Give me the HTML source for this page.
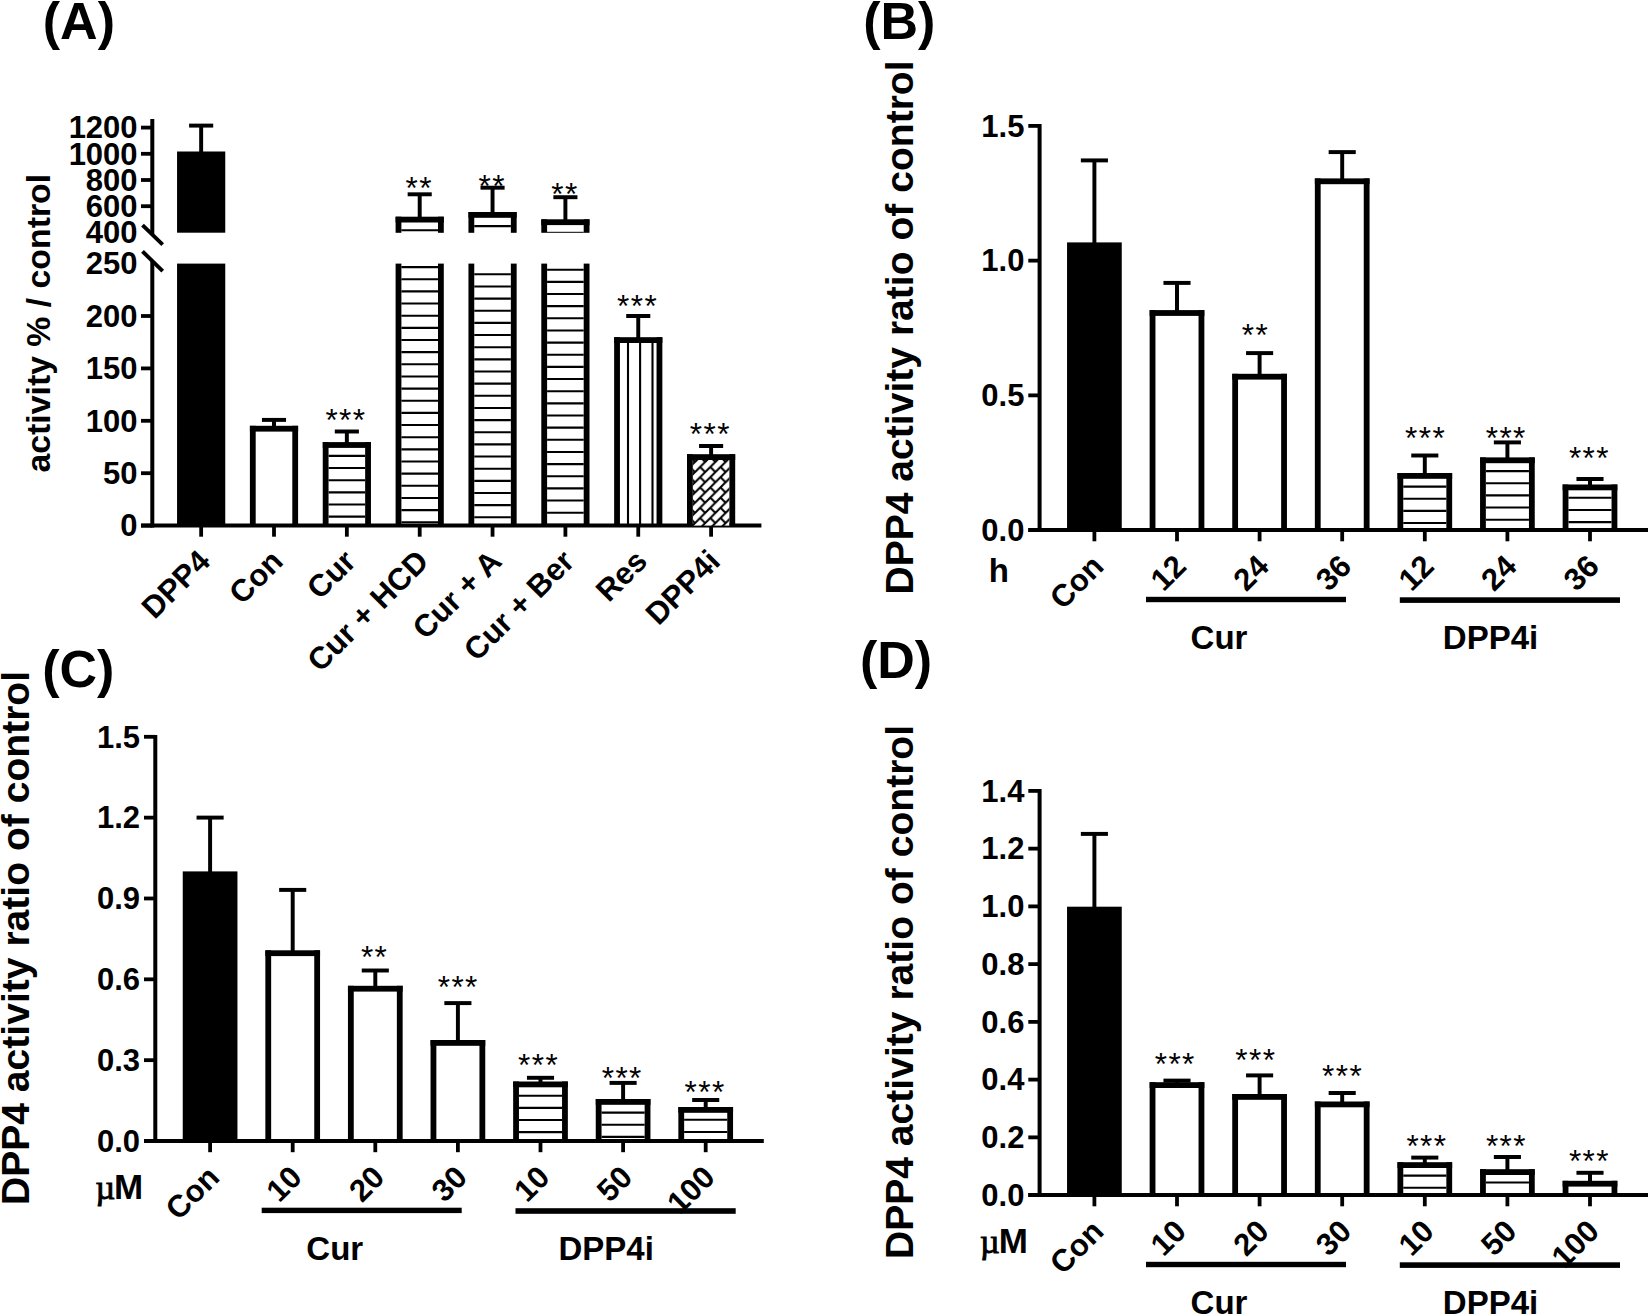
<!DOCTYPE html><html><head><meta charset="utf-8"><title>DPP4 activity figure</title><style>html,body{margin:0;padding:0;background:#fff;overflow:hidden}svg{display:block}</style></head><body><svg width="1649" height="1315" viewBox="0 0 1649 1315" font-family="'Liberation Sans', Arial, Helvetica, sans-serif" fill="#000"><defs><pattern id="brick" patternUnits="userSpaceOnUse" x="695.0" y="461.9" width="10.2" height="10.2">
<rect width="10.2" height="10.2" fill="#fff"/>
<path d="M-1,11.2 L11.2,-1 M-1,1 L1,-1 M9.2,11.2 L11.2,9.2 M5.1,5.1 L10.2,10.2" stroke="#000" stroke-width="2.1" fill="none"/>
</pattern></defs><line x1="152.30" y1="527.60" x2="152.30" y2="261.50" stroke="#000" stroke-width="4.0" stroke-linecap="butt"/>
<line x1="152.30" y1="234.50" x2="152.30" y2="119.00" stroke="#000" stroke-width="4.0" stroke-linecap="butt"/>
<line x1="142.50" y1="225.10" x2="162.70" y2="244.60" stroke="#000" stroke-width="3.9" stroke-linecap="butt"/>
<line x1="142.50" y1="251.40" x2="162.70" y2="271.20" stroke="#000" stroke-width="3.9" stroke-linecap="butt"/>
<line x1="141.00" y1="525.60" x2="152.30" y2="525.60" stroke="#000" stroke-width="3.8" stroke-linecap="butt"/>
<text x="137.60" y="536.30" font-size="31" font-weight="bold" text-anchor="end">0</text>
<line x1="141.00" y1="473.20" x2="152.30" y2="473.20" stroke="#000" stroke-width="3.8" stroke-linecap="butt"/>
<text x="137.60" y="483.90" font-size="31" font-weight="bold" text-anchor="end">50</text>
<line x1="141.00" y1="420.80" x2="152.30" y2="420.80" stroke="#000" stroke-width="3.8" stroke-linecap="butt"/>
<text x="137.60" y="431.50" font-size="31" font-weight="bold" text-anchor="end">100</text>
<line x1="141.00" y1="368.40" x2="152.30" y2="368.40" stroke="#000" stroke-width="3.8" stroke-linecap="butt"/>
<text x="137.60" y="379.10" font-size="31" font-weight="bold" text-anchor="end">150</text>
<line x1="141.00" y1="316.00" x2="152.30" y2="316.00" stroke="#000" stroke-width="3.8" stroke-linecap="butt"/>
<text x="137.60" y="326.70" font-size="31" font-weight="bold" text-anchor="end">200</text>
<text x="137.60" y="274.30" font-size="31" font-weight="bold" text-anchor="end">250</text>
<line x1="141.00" y1="206.20" x2="152.30" y2="206.20" stroke="#000" stroke-width="3.8" stroke-linecap="butt"/>
<text x="137.60" y="216.90" font-size="31" font-weight="bold" text-anchor="end">600</text>
<line x1="141.00" y1="180.00" x2="152.30" y2="180.00" stroke="#000" stroke-width="3.8" stroke-linecap="butt"/>
<text x="137.60" y="190.70" font-size="31" font-weight="bold" text-anchor="end">800</text>
<line x1="141.00" y1="153.80" x2="152.30" y2="153.80" stroke="#000" stroke-width="3.8" stroke-linecap="butt"/>
<text x="137.60" y="164.50" font-size="31" font-weight="bold" text-anchor="end">1000</text>
<line x1="141.00" y1="127.60" x2="152.30" y2="127.60" stroke="#000" stroke-width="3.8" stroke-linecap="butt"/>
<text x="137.60" y="138.30" font-size="31" font-weight="bold" text-anchor="end">1200</text>
<text x="137.60" y="243.10" font-size="31" font-weight="bold" text-anchor="end">400</text>
<line x1="141.00" y1="525.60" x2="761.40" y2="525.60" stroke="#000" stroke-width="4.0" stroke-linecap="butt"/>
<line x1="201.15" y1="525.60" x2="201.15" y2="536.70" stroke="#000" stroke-width="3.8" stroke-linecap="butt"/>
<line x1="274.00" y1="525.60" x2="274.00" y2="536.70" stroke="#000" stroke-width="3.8" stroke-linecap="butt"/>
<line x1="346.85" y1="525.60" x2="346.85" y2="536.70" stroke="#000" stroke-width="3.8" stroke-linecap="butt"/>
<line x1="419.70" y1="525.60" x2="419.70" y2="536.70" stroke="#000" stroke-width="3.8" stroke-linecap="butt"/>
<line x1="492.55" y1="525.60" x2="492.55" y2="536.70" stroke="#000" stroke-width="3.8" stroke-linecap="butt"/>
<line x1="565.40" y1="525.60" x2="565.40" y2="536.70" stroke="#000" stroke-width="3.8" stroke-linecap="butt"/>
<line x1="638.25" y1="525.60" x2="638.25" y2="536.70" stroke="#000" stroke-width="3.8" stroke-linecap="butt"/>
<line x1="711.10" y1="525.60" x2="711.10" y2="536.70" stroke="#000" stroke-width="3.8" stroke-linecap="butt"/>
<rect x="177.05" y="263.60" width="48.20" height="262.00" fill="#000"/>
<rect x="177.05" y="151.5" width="48.20" height="81.20" fill="#000"/>
<line x1="201.15" y1="154.00" x2="201.15" y2="125.60" stroke="#000" stroke-width="3.95" stroke-linecap="butt"/>
<line x1="189.10" y1="125.60" x2="213.20" y2="125.60" stroke="#000" stroke-width="3.95" stroke-linecap="butt"/>
<rect x="249.90" y="425.80" width="48.20" height="5.80" fill="#000"/>
<rect x="249.90" y="425.80" width="5.80" height="99.80" fill="#000"/>
<rect x="292.30" y="425.80" width="5.80" height="99.80" fill="#000"/>
<line x1="274.00" y1="427.80" x2="274.00" y2="419.90" stroke="#000" stroke-width="3.95" stroke-linecap="butt"/>
<line x1="261.95" y1="419.90" x2="286.05" y2="419.90" stroke="#000" stroke-width="3.95" stroke-linecap="butt"/>
<line x1="328.55" y1="455.90" x2="365.15" y2="455.90" stroke="#000" stroke-width="2.1" stroke-linecap="butt"/>
<line x1="328.55" y1="468.05" x2="365.15" y2="468.05" stroke="#000" stroke-width="2.1" stroke-linecap="butt"/>
<line x1="328.55" y1="480.20" x2="365.15" y2="480.20" stroke="#000" stroke-width="2.1" stroke-linecap="butt"/>
<line x1="328.55" y1="492.35" x2="365.15" y2="492.35" stroke="#000" stroke-width="2.1" stroke-linecap="butt"/>
<line x1="328.55" y1="504.50" x2="365.15" y2="504.50" stroke="#000" stroke-width="2.1" stroke-linecap="butt"/>
<line x1="328.55" y1="516.65" x2="365.15" y2="516.65" stroke="#000" stroke-width="2.1" stroke-linecap="butt"/>
<rect x="322.75" y="442.10" width="48.20" height="5.80" fill="#000"/>
<rect x="322.75" y="442.10" width="5.80" height="83.50" fill="#000"/>
<rect x="365.15" y="442.10" width="5.80" height="83.50" fill="#000"/>
<line x1="346.85" y1="444.10" x2="346.85" y2="431.50" stroke="#000" stroke-width="3.95" stroke-linecap="butt"/>
<line x1="334.80" y1="431.50" x2="358.90" y2="431.50" stroke="#000" stroke-width="3.95" stroke-linecap="butt"/>
<line x1="401.40" y1="267.10" x2="438.00" y2="267.10" stroke="#000" stroke-width="2.1" stroke-linecap="butt"/>
<line x1="401.40" y1="279.25" x2="438.00" y2="279.25" stroke="#000" stroke-width="2.1" stroke-linecap="butt"/>
<line x1="401.40" y1="291.40" x2="438.00" y2="291.40" stroke="#000" stroke-width="2.1" stroke-linecap="butt"/>
<line x1="401.40" y1="303.55" x2="438.00" y2="303.55" stroke="#000" stroke-width="2.1" stroke-linecap="butt"/>
<line x1="401.40" y1="315.70" x2="438.00" y2="315.70" stroke="#000" stroke-width="2.1" stroke-linecap="butt"/>
<line x1="401.40" y1="327.85" x2="438.00" y2="327.85" stroke="#000" stroke-width="2.1" stroke-linecap="butt"/>
<line x1="401.40" y1="340.00" x2="438.00" y2="340.00" stroke="#000" stroke-width="2.1" stroke-linecap="butt"/>
<line x1="401.40" y1="352.15" x2="438.00" y2="352.15" stroke="#000" stroke-width="2.1" stroke-linecap="butt"/>
<line x1="401.40" y1="364.30" x2="438.00" y2="364.30" stroke="#000" stroke-width="2.1" stroke-linecap="butt"/>
<line x1="401.40" y1="376.45" x2="438.00" y2="376.45" stroke="#000" stroke-width="2.1" stroke-linecap="butt"/>
<line x1="401.40" y1="388.60" x2="438.00" y2="388.60" stroke="#000" stroke-width="2.1" stroke-linecap="butt"/>
<line x1="401.40" y1="400.75" x2="438.00" y2="400.75" stroke="#000" stroke-width="2.1" stroke-linecap="butt"/>
<line x1="401.40" y1="412.90" x2="438.00" y2="412.90" stroke="#000" stroke-width="2.1" stroke-linecap="butt"/>
<line x1="401.40" y1="425.05" x2="438.00" y2="425.05" stroke="#000" stroke-width="2.1" stroke-linecap="butt"/>
<line x1="401.40" y1="437.20" x2="438.00" y2="437.20" stroke="#000" stroke-width="2.1" stroke-linecap="butt"/>
<line x1="401.40" y1="449.35" x2="438.00" y2="449.35" stroke="#000" stroke-width="2.1" stroke-linecap="butt"/>
<line x1="401.40" y1="461.50" x2="438.00" y2="461.50" stroke="#000" stroke-width="2.1" stroke-linecap="butt"/>
<line x1="401.40" y1="473.65" x2="438.00" y2="473.65" stroke="#000" stroke-width="2.1" stroke-linecap="butt"/>
<line x1="401.40" y1="485.80" x2="438.00" y2="485.80" stroke="#000" stroke-width="2.1" stroke-linecap="butt"/>
<line x1="401.40" y1="497.95" x2="438.00" y2="497.95" stroke="#000" stroke-width="2.1" stroke-linecap="butt"/>
<line x1="401.40" y1="510.10" x2="438.00" y2="510.10" stroke="#000" stroke-width="2.1" stroke-linecap="butt"/>
<line x1="401.40" y1="522.25" x2="438.00" y2="522.25" stroke="#000" stroke-width="2.1" stroke-linecap="butt"/>
<rect x="395.60" y="263.60" width="5.80" height="262.00" fill="#000"/>
<rect x="438.00" y="263.60" width="5.80" height="262.00" fill="#000"/>
<line x1="401.40" y1="230.20" x2="438.00" y2="230.20" stroke="#000" stroke-width="2.1" stroke-linecap="butt"/>
<rect x="395.60" y="216.70" width="48.20" height="5.80" fill="#000"/>
<rect x="395.60" y="216.70" width="5.80" height="16.10" fill="#000"/>
<rect x="438.00" y="216.70" width="5.80" height="16.10" fill="#000"/>
<line x1="419.70" y1="218.70" x2="419.70" y2="194.30" stroke="#000" stroke-width="3.95" stroke-linecap="butt"/>
<line x1="407.65" y1="194.30" x2="431.75" y2="194.30" stroke="#000" stroke-width="3.95" stroke-linecap="butt"/>
<line x1="474.25" y1="274.30" x2="510.85" y2="274.30" stroke="#000" stroke-width="2.1" stroke-linecap="butt"/>
<line x1="474.25" y1="286.45" x2="510.85" y2="286.45" stroke="#000" stroke-width="2.1" stroke-linecap="butt"/>
<line x1="474.25" y1="298.60" x2="510.85" y2="298.60" stroke="#000" stroke-width="2.1" stroke-linecap="butt"/>
<line x1="474.25" y1="310.75" x2="510.85" y2="310.75" stroke="#000" stroke-width="2.1" stroke-linecap="butt"/>
<line x1="474.25" y1="322.90" x2="510.85" y2="322.90" stroke="#000" stroke-width="2.1" stroke-linecap="butt"/>
<line x1="474.25" y1="335.05" x2="510.85" y2="335.05" stroke="#000" stroke-width="2.1" stroke-linecap="butt"/>
<line x1="474.25" y1="347.20" x2="510.85" y2="347.20" stroke="#000" stroke-width="2.1" stroke-linecap="butt"/>
<line x1="474.25" y1="359.35" x2="510.85" y2="359.35" stroke="#000" stroke-width="2.1" stroke-linecap="butt"/>
<line x1="474.25" y1="371.50" x2="510.85" y2="371.50" stroke="#000" stroke-width="2.1" stroke-linecap="butt"/>
<line x1="474.25" y1="383.65" x2="510.85" y2="383.65" stroke="#000" stroke-width="2.1" stroke-linecap="butt"/>
<line x1="474.25" y1="395.80" x2="510.85" y2="395.80" stroke="#000" stroke-width="2.1" stroke-linecap="butt"/>
<line x1="474.25" y1="407.95" x2="510.85" y2="407.95" stroke="#000" stroke-width="2.1" stroke-linecap="butt"/>
<line x1="474.25" y1="420.10" x2="510.85" y2="420.10" stroke="#000" stroke-width="2.1" stroke-linecap="butt"/>
<line x1="474.25" y1="432.25" x2="510.85" y2="432.25" stroke="#000" stroke-width="2.1" stroke-linecap="butt"/>
<line x1="474.25" y1="444.40" x2="510.85" y2="444.40" stroke="#000" stroke-width="2.1" stroke-linecap="butt"/>
<line x1="474.25" y1="456.55" x2="510.85" y2="456.55" stroke="#000" stroke-width="2.1" stroke-linecap="butt"/>
<line x1="474.25" y1="468.70" x2="510.85" y2="468.70" stroke="#000" stroke-width="2.1" stroke-linecap="butt"/>
<line x1="474.25" y1="480.85" x2="510.85" y2="480.85" stroke="#000" stroke-width="2.1" stroke-linecap="butt"/>
<line x1="474.25" y1="493.00" x2="510.85" y2="493.00" stroke="#000" stroke-width="2.1" stroke-linecap="butt"/>
<line x1="474.25" y1="505.15" x2="510.85" y2="505.15" stroke="#000" stroke-width="2.1" stroke-linecap="butt"/>
<line x1="474.25" y1="517.30" x2="510.85" y2="517.30" stroke="#000" stroke-width="2.1" stroke-linecap="butt"/>
<rect x="468.45" y="263.60" width="5.80" height="262.00" fill="#000"/>
<rect x="510.85" y="263.60" width="5.80" height="262.00" fill="#000"/>
<line x1="474.25" y1="226.10" x2="510.85" y2="226.10" stroke="#000" stroke-width="2.1" stroke-linecap="butt"/>
<rect x="468.45" y="212.00" width="48.20" height="5.80" fill="#000"/>
<rect x="468.45" y="212.00" width="5.80" height="20.80" fill="#000"/>
<rect x="510.85" y="212.00" width="5.80" height="20.80" fill="#000"/>
<line x1="492.55" y1="214.00" x2="492.55" y2="187.70" stroke="#000" stroke-width="3.95" stroke-linecap="butt"/>
<line x1="480.50" y1="187.70" x2="504.60" y2="187.70" stroke="#000" stroke-width="3.95" stroke-linecap="butt"/>
<line x1="547.10" y1="269.70" x2="583.70" y2="269.70" stroke="#000" stroke-width="2.1" stroke-linecap="butt"/>
<line x1="547.10" y1="281.85" x2="583.70" y2="281.85" stroke="#000" stroke-width="2.1" stroke-linecap="butt"/>
<line x1="547.10" y1="294.00" x2="583.70" y2="294.00" stroke="#000" stroke-width="2.1" stroke-linecap="butt"/>
<line x1="547.10" y1="306.15" x2="583.70" y2="306.15" stroke="#000" stroke-width="2.1" stroke-linecap="butt"/>
<line x1="547.10" y1="318.30" x2="583.70" y2="318.30" stroke="#000" stroke-width="2.1" stroke-linecap="butt"/>
<line x1="547.10" y1="330.45" x2="583.70" y2="330.45" stroke="#000" stroke-width="2.1" stroke-linecap="butt"/>
<line x1="547.10" y1="342.60" x2="583.70" y2="342.60" stroke="#000" stroke-width="2.1" stroke-linecap="butt"/>
<line x1="547.10" y1="354.75" x2="583.70" y2="354.75" stroke="#000" stroke-width="2.1" stroke-linecap="butt"/>
<line x1="547.10" y1="366.90" x2="583.70" y2="366.90" stroke="#000" stroke-width="2.1" stroke-linecap="butt"/>
<line x1="547.10" y1="379.05" x2="583.70" y2="379.05" stroke="#000" stroke-width="2.1" stroke-linecap="butt"/>
<line x1="547.10" y1="391.20" x2="583.70" y2="391.20" stroke="#000" stroke-width="2.1" stroke-linecap="butt"/>
<line x1="547.10" y1="403.35" x2="583.70" y2="403.35" stroke="#000" stroke-width="2.1" stroke-linecap="butt"/>
<line x1="547.10" y1="415.50" x2="583.70" y2="415.50" stroke="#000" stroke-width="2.1" stroke-linecap="butt"/>
<line x1="547.10" y1="427.65" x2="583.70" y2="427.65" stroke="#000" stroke-width="2.1" stroke-linecap="butt"/>
<line x1="547.10" y1="439.80" x2="583.70" y2="439.80" stroke="#000" stroke-width="2.1" stroke-linecap="butt"/>
<line x1="547.10" y1="451.95" x2="583.70" y2="451.95" stroke="#000" stroke-width="2.1" stroke-linecap="butt"/>
<line x1="547.10" y1="464.10" x2="583.70" y2="464.10" stroke="#000" stroke-width="2.1" stroke-linecap="butt"/>
<line x1="547.10" y1="476.25" x2="583.70" y2="476.25" stroke="#000" stroke-width="2.1" stroke-linecap="butt"/>
<line x1="547.10" y1="488.40" x2="583.70" y2="488.40" stroke="#000" stroke-width="2.1" stroke-linecap="butt"/>
<line x1="547.10" y1="500.55" x2="583.70" y2="500.55" stroke="#000" stroke-width="2.1" stroke-linecap="butt"/>
<line x1="547.10" y1="512.70" x2="583.70" y2="512.70" stroke="#000" stroke-width="2.1" stroke-linecap="butt"/>
<line x1="547.10" y1="524.85" x2="583.70" y2="524.85" stroke="#000" stroke-width="2.1" stroke-linecap="butt"/>
<rect x="541.30" y="263.60" width="5.80" height="262.00" fill="#000"/>
<rect x="583.70" y="263.60" width="5.80" height="262.00" fill="#000"/>
<line x1="547.10" y1="232.30" x2="583.70" y2="232.30" stroke="#000" stroke-width="1.0" stroke-linecap="butt"/>
<rect x="541.30" y="219.30" width="48.20" height="5.80" fill="#000"/>
<rect x="541.30" y="219.30" width="5.80" height="13.50" fill="#000"/>
<rect x="583.70" y="219.30" width="5.80" height="13.50" fill="#000"/>
<line x1="565.40" y1="221.30" x2="565.40" y2="197.20" stroke="#000" stroke-width="3.95" stroke-linecap="butt"/>
<line x1="553.35" y1="197.20" x2="577.45" y2="197.20" stroke="#000" stroke-width="3.95" stroke-linecap="butt"/>
<line x1="628.00" y1="343.00" x2="628.00" y2="525.60" stroke="#000" stroke-width="2.1" stroke-linecap="butt"/>
<line x1="640.10" y1="343.00" x2="640.10" y2="525.60" stroke="#000" stroke-width="2.1" stroke-linecap="butt"/>
<line x1="652.50" y1="343.00" x2="652.50" y2="525.60" stroke="#000" stroke-width="2.1" stroke-linecap="butt"/>
<rect x="614.15" y="337.20" width="48.20" height="5.80" fill="#000"/>
<rect x="614.15" y="337.20" width="5.80" height="188.40" fill="#000"/>
<rect x="656.55" y="337.20" width="5.80" height="188.40" fill="#000"/>
<line x1="638.25" y1="339.20" x2="638.25" y2="316.00" stroke="#000" stroke-width="3.95" stroke-linecap="butt"/>
<line x1="626.20" y1="316.00" x2="650.30" y2="316.00" stroke="#000" stroke-width="3.95" stroke-linecap="butt"/>
<rect x="692.80" y="460.00" width="36.60" height="65.60" fill="url(#brick)"/>
<rect x="687.00" y="454.20" width="48.20" height="5.80" fill="#000"/>
<rect x="687.00" y="454.20" width="5.80" height="71.40" fill="#000"/>
<rect x="729.40" y="454.20" width="5.80" height="71.40" fill="#000"/>
<line x1="711.10" y1="456.10" x2="711.10" y2="446.00" stroke="#000" stroke-width="3.95" stroke-linecap="butt"/>
<line x1="699.05" y1="446.00" x2="723.15" y2="446.00" stroke="#000" stroke-width="3.95" stroke-linecap="butt"/>
<text transform="translate(211.85,563.10) rotate(-45)" font-size="31" font-weight="bold" text-anchor="end">DPP4</text>
<text transform="translate(284.70,563.10) rotate(-45)" font-size="31" font-weight="bold" text-anchor="end">Con</text>
<text transform="translate(357.55,563.10) rotate(-45)" font-size="31" font-weight="bold" text-anchor="end">Cur</text>
<text transform="translate(430.40,563.10) rotate(-45)" font-size="31" font-weight="bold" text-anchor="end">Cur + HCD</text>
<text transform="translate(503.25,563.10) rotate(-45)" font-size="31" font-weight="bold" text-anchor="end">Cur + A</text>
<text transform="translate(576.10,563.10) rotate(-45)" font-size="31" font-weight="bold" text-anchor="end">Cur + Ber</text>
<text transform="translate(648.95,563.10) rotate(-45)" font-size="31" font-weight="bold" text-anchor="end">Res</text>
<text transform="translate(721.80,563.10) rotate(-45)" font-size="31" font-weight="bold" text-anchor="end">DPP4i</text>
<text transform="translate(49.60,323.20) rotate(-90)" font-size="33.8" font-weight="bold" text-anchor="middle">activity % / control</text>
<text x="42.80" y="39.40" font-size="52" font-weight="bold" text-anchor="start">(A)</text>
<line x1="1039.60" y1="532.10" x2="1039.60" y2="124.00" stroke="#000" stroke-width="4.0" stroke-linecap="butt"/>
<line x1="1028.30" y1="530.10" x2="1039.60" y2="530.10" stroke="#000" stroke-width="3.8" stroke-linecap="butt"/>
<text x="1024.40" y="540.80" font-size="31" font-weight="bold" text-anchor="end">0.0</text>
<line x1="1028.30" y1="395.37" x2="1039.60" y2="395.37" stroke="#000" stroke-width="3.8" stroke-linecap="butt"/>
<text x="1024.40" y="406.07" font-size="31" font-weight="bold" text-anchor="end">0.5</text>
<line x1="1028.30" y1="260.63" x2="1039.60" y2="260.63" stroke="#000" stroke-width="3.8" stroke-linecap="butt"/>
<text x="1024.40" y="271.33" font-size="31" font-weight="bold" text-anchor="end">1.0</text>
<line x1="1028.30" y1="125.90" x2="1039.60" y2="125.90" stroke="#000" stroke-width="3.8" stroke-linecap="butt"/>
<text x="1024.40" y="136.60" font-size="31" font-weight="bold" text-anchor="end">1.5</text>
<line x1="1028.30" y1="530.10" x2="1648.00" y2="530.10" stroke="#000" stroke-width="4.0" stroke-linecap="butt"/>
<line x1="1094.40" y1="530.10" x2="1094.40" y2="541.30" stroke="#000" stroke-width="3.8" stroke-linecap="butt"/>
<line x1="1177.00" y1="530.10" x2="1177.00" y2="541.30" stroke="#000" stroke-width="3.8" stroke-linecap="butt"/>
<line x1="1259.60" y1="530.10" x2="1259.60" y2="541.30" stroke="#000" stroke-width="3.8" stroke-linecap="butt"/>
<line x1="1342.20" y1="530.10" x2="1342.20" y2="541.30" stroke="#000" stroke-width="3.8" stroke-linecap="butt"/>
<line x1="1424.80" y1="530.10" x2="1424.80" y2="541.30" stroke="#000" stroke-width="3.8" stroke-linecap="butt"/>
<line x1="1507.40" y1="530.10" x2="1507.40" y2="541.30" stroke="#000" stroke-width="3.8" stroke-linecap="butt"/>
<line x1="1590.00" y1="530.10" x2="1590.00" y2="541.30" stroke="#000" stroke-width="3.8" stroke-linecap="butt"/>
<rect x="1067.05" y="242.40" width="54.70" height="287.70" fill="#000"/>
<line x1="1094.40" y1="244.40" x2="1094.40" y2="160.40" stroke="#000" stroke-width="3.95" stroke-linecap="butt"/>
<line x1="1080.85" y1="160.40" x2="1107.95" y2="160.40" stroke="#000" stroke-width="3.95" stroke-linecap="butt"/>
<rect x="1149.65" y="310.10" width="54.70" height="5.80" fill="#000"/>
<rect x="1149.65" y="310.10" width="5.80" height="220.00" fill="#000"/>
<rect x="1198.55" y="310.10" width="5.80" height="220.00" fill="#000"/>
<line x1="1177.00" y1="312.10" x2="1177.00" y2="282.90" stroke="#000" stroke-width="3.95" stroke-linecap="butt"/>
<line x1="1163.45" y1="282.90" x2="1190.55" y2="282.90" stroke="#000" stroke-width="3.95" stroke-linecap="butt"/>
<rect x="1232.25" y="373.80" width="54.70" height="5.80" fill="#000"/>
<rect x="1232.25" y="373.80" width="5.80" height="156.30" fill="#000"/>
<rect x="1281.15" y="373.80" width="5.80" height="156.30" fill="#000"/>
<line x1="1259.60" y1="375.80" x2="1259.60" y2="353.10" stroke="#000" stroke-width="3.95" stroke-linecap="butt"/>
<line x1="1246.05" y1="353.10" x2="1273.15" y2="353.10" stroke="#000" stroke-width="3.95" stroke-linecap="butt"/>
<rect x="1314.85" y="178.40" width="54.70" height="5.80" fill="#000"/>
<rect x="1314.85" y="178.40" width="5.80" height="351.70" fill="#000"/>
<rect x="1363.75" y="178.40" width="5.80" height="351.70" fill="#000"/>
<line x1="1342.20" y1="180.40" x2="1342.20" y2="152.10" stroke="#000" stroke-width="3.95" stroke-linecap="butt"/>
<line x1="1328.65" y1="152.10" x2="1355.75" y2="152.10" stroke="#000" stroke-width="3.95" stroke-linecap="butt"/>
<line x1="1403.25" y1="486.60" x2="1446.35" y2="486.60" stroke="#000" stroke-width="2.1" stroke-linecap="butt"/>
<line x1="1403.25" y1="498.75" x2="1446.35" y2="498.75" stroke="#000" stroke-width="2.1" stroke-linecap="butt"/>
<line x1="1403.25" y1="510.90" x2="1446.35" y2="510.90" stroke="#000" stroke-width="2.1" stroke-linecap="butt"/>
<line x1="1403.25" y1="523.05" x2="1446.35" y2="523.05" stroke="#000" stroke-width="2.1" stroke-linecap="butt"/>
<rect x="1397.45" y="473.00" width="54.70" height="5.80" fill="#000"/>
<rect x="1397.45" y="473.00" width="5.80" height="57.10" fill="#000"/>
<rect x="1446.35" y="473.00" width="5.80" height="57.10" fill="#000"/>
<line x1="1424.80" y1="475.00" x2="1424.80" y2="455.50" stroke="#000" stroke-width="3.95" stroke-linecap="butt"/>
<line x1="1411.25" y1="455.50" x2="1438.35" y2="455.50" stroke="#000" stroke-width="3.95" stroke-linecap="butt"/>
<line x1="1485.85" y1="471.10" x2="1528.95" y2="471.10" stroke="#000" stroke-width="2.1" stroke-linecap="butt"/>
<line x1="1485.85" y1="483.25" x2="1528.95" y2="483.25" stroke="#000" stroke-width="2.1" stroke-linecap="butt"/>
<line x1="1485.85" y1="495.40" x2="1528.95" y2="495.40" stroke="#000" stroke-width="2.1" stroke-linecap="butt"/>
<line x1="1485.85" y1="507.55" x2="1528.95" y2="507.55" stroke="#000" stroke-width="2.1" stroke-linecap="butt"/>
<line x1="1485.85" y1="519.70" x2="1528.95" y2="519.70" stroke="#000" stroke-width="2.1" stroke-linecap="butt"/>
<rect x="1480.05" y="457.40" width="54.70" height="5.80" fill="#000"/>
<rect x="1480.05" y="457.40" width="5.80" height="72.70" fill="#000"/>
<rect x="1528.95" y="457.40" width="5.80" height="72.70" fill="#000"/>
<line x1="1507.40" y1="459.40" x2="1507.40" y2="442.40" stroke="#000" stroke-width="3.95" stroke-linecap="butt"/>
<line x1="1493.85" y1="442.40" x2="1520.95" y2="442.40" stroke="#000" stroke-width="3.95" stroke-linecap="butt"/>
<line x1="1568.45" y1="497.80" x2="1611.55" y2="497.80" stroke="#000" stroke-width="2.1" stroke-linecap="butt"/>
<line x1="1568.45" y1="509.95" x2="1611.55" y2="509.95" stroke="#000" stroke-width="2.1" stroke-linecap="butt"/>
<line x1="1568.45" y1="522.10" x2="1611.55" y2="522.10" stroke="#000" stroke-width="2.1" stroke-linecap="butt"/>
<rect x="1562.65" y="484.50" width="54.70" height="5.80" fill="#000"/>
<rect x="1562.65" y="484.50" width="5.80" height="45.60" fill="#000"/>
<rect x="1611.55" y="484.50" width="5.80" height="45.60" fill="#000"/>
<line x1="1590.00" y1="486.50" x2="1590.00" y2="479.00" stroke="#000" stroke-width="3.95" stroke-linecap="butt"/>
<line x1="1576.45" y1="479.00" x2="1603.55" y2="479.00" stroke="#000" stroke-width="3.95" stroke-linecap="butt"/>
<rect x="1146.00" y="596.80" width="200" height="5.4" fill="#000"/>
<rect x="1399.80" y="597.30" width="220.20" height="5.6" fill="#000"/>
<text x="1190.60" y="648.90" font-size="33" font-weight="bold" text-anchor="start">Cur</text>
<text x="1442.80" y="649.10" font-size="33" font-weight="bold" text-anchor="start">DPP4i</text>
<text transform="translate(1105.40,568.10) rotate(-45)" font-size="31" font-weight="bold" text-anchor="end">Con</text>
<text transform="translate(1188.00,568.10) rotate(-45)" font-size="31" font-weight="bold" text-anchor="end">12</text>
<text transform="translate(1270.60,568.10) rotate(-45)" font-size="31" font-weight="bold" text-anchor="end">24</text>
<text transform="translate(1353.20,568.10) rotate(-45)" font-size="31" font-weight="bold" text-anchor="end">36</text>
<text transform="translate(1435.80,568.10) rotate(-45)" font-size="31" font-weight="bold" text-anchor="end">12</text>
<text transform="translate(1518.40,568.10) rotate(-45)" font-size="31" font-weight="bold" text-anchor="end">24</text>
<text transform="translate(1601.00,568.10) rotate(-45)" font-size="31" font-weight="bold" text-anchor="end">36</text>
<text x="988.70" y="582.00" font-size="33" font-weight="bold" text-anchor="start">h</text>
<text transform="translate(913.40,327.50) rotate(-90)" font-size="39.1" font-weight="bold" text-anchor="middle">DPP4 activity ratio of control</text>
<text x="863.20" y="39.30" font-size="52" font-weight="bold" text-anchor="start">(B)</text>
<line x1="155.30" y1="1143.00" x2="155.30" y2="734.90" stroke="#000" stroke-width="4.0" stroke-linecap="butt"/>
<line x1="144.00" y1="1141.00" x2="155.30" y2="1141.00" stroke="#000" stroke-width="3.8" stroke-linecap="butt"/>
<text x="140.10" y="1151.70" font-size="31" font-weight="bold" text-anchor="end">0.0</text>
<line x1="144.00" y1="1060.16" x2="155.30" y2="1060.16" stroke="#000" stroke-width="3.8" stroke-linecap="butt"/>
<text x="140.10" y="1070.86" font-size="31" font-weight="bold" text-anchor="end">0.3</text>
<line x1="144.00" y1="979.32" x2="155.30" y2="979.32" stroke="#000" stroke-width="3.8" stroke-linecap="butt"/>
<text x="140.10" y="990.02" font-size="31" font-weight="bold" text-anchor="end">0.6</text>
<line x1="144.00" y1="898.48" x2="155.30" y2="898.48" stroke="#000" stroke-width="3.8" stroke-linecap="butt"/>
<text x="140.10" y="909.18" font-size="31" font-weight="bold" text-anchor="end">0.9</text>
<line x1="144.00" y1="817.64" x2="155.30" y2="817.64" stroke="#000" stroke-width="3.8" stroke-linecap="butt"/>
<text x="140.10" y="828.34" font-size="31" font-weight="bold" text-anchor="end">1.2</text>
<line x1="144.00" y1="736.80" x2="155.30" y2="736.80" stroke="#000" stroke-width="3.8" stroke-linecap="butt"/>
<text x="140.10" y="747.50" font-size="31" font-weight="bold" text-anchor="end">1.5</text>
<line x1="144.00" y1="1141.00" x2="763.80" y2="1141.00" stroke="#000" stroke-width="4.0" stroke-linecap="butt"/>
<line x1="210.10" y1="1141.00" x2="210.10" y2="1152.20" stroke="#000" stroke-width="3.8" stroke-linecap="butt"/>
<line x1="292.70" y1="1141.00" x2="292.70" y2="1152.20" stroke="#000" stroke-width="3.8" stroke-linecap="butt"/>
<line x1="375.30" y1="1141.00" x2="375.30" y2="1152.20" stroke="#000" stroke-width="3.8" stroke-linecap="butt"/>
<line x1="457.90" y1="1141.00" x2="457.90" y2="1152.20" stroke="#000" stroke-width="3.8" stroke-linecap="butt"/>
<line x1="540.50" y1="1141.00" x2="540.50" y2="1152.20" stroke="#000" stroke-width="3.8" stroke-linecap="butt"/>
<line x1="623.10" y1="1141.00" x2="623.10" y2="1152.20" stroke="#000" stroke-width="3.8" stroke-linecap="butt"/>
<line x1="705.70" y1="1141.00" x2="705.70" y2="1152.20" stroke="#000" stroke-width="3.8" stroke-linecap="butt"/>
<rect x="182.75" y="871.40" width="54.70" height="269.60" fill="#000"/>
<line x1="210.10" y1="873.40" x2="210.10" y2="817.60" stroke="#000" stroke-width="3.95" stroke-linecap="butt"/>
<line x1="196.55" y1="817.60" x2="223.65" y2="817.60" stroke="#000" stroke-width="3.95" stroke-linecap="butt"/>
<rect x="265.35" y="950.30" width="54.70" height="5.80" fill="#000"/>
<rect x="265.35" y="950.30" width="5.80" height="190.70" fill="#000"/>
<rect x="314.25" y="950.30" width="5.80" height="190.70" fill="#000"/>
<line x1="292.70" y1="952.30" x2="292.70" y2="889.90" stroke="#000" stroke-width="3.95" stroke-linecap="butt"/>
<line x1="279.15" y1="889.90" x2="306.25" y2="889.90" stroke="#000" stroke-width="3.95" stroke-linecap="butt"/>
<rect x="347.95" y="985.80" width="54.70" height="5.80" fill="#000"/>
<rect x="347.95" y="985.80" width="5.80" height="155.20" fill="#000"/>
<rect x="396.85" y="985.80" width="5.80" height="155.20" fill="#000"/>
<line x1="375.30" y1="987.80" x2="375.30" y2="970.50" stroke="#000" stroke-width="3.95" stroke-linecap="butt"/>
<line x1="361.75" y1="970.50" x2="388.85" y2="970.50" stroke="#000" stroke-width="3.95" stroke-linecap="butt"/>
<rect x="430.55" y="1040.00" width="54.70" height="5.80" fill="#000"/>
<rect x="430.55" y="1040.00" width="5.80" height="101.00" fill="#000"/>
<rect x="479.45" y="1040.00" width="5.80" height="101.00" fill="#000"/>
<line x1="457.90" y1="1042.00" x2="457.90" y2="1003.10" stroke="#000" stroke-width="3.95" stroke-linecap="butt"/>
<line x1="444.35" y1="1003.10" x2="471.45" y2="1003.10" stroke="#000" stroke-width="3.95" stroke-linecap="butt"/>
<line x1="518.95" y1="1095.70" x2="562.05" y2="1095.70" stroke="#000" stroke-width="2.1" stroke-linecap="butt"/>
<line x1="518.95" y1="1107.85" x2="562.05" y2="1107.85" stroke="#000" stroke-width="2.1" stroke-linecap="butt"/>
<line x1="518.95" y1="1120.00" x2="562.05" y2="1120.00" stroke="#000" stroke-width="2.1" stroke-linecap="butt"/>
<line x1="518.95" y1="1132.15" x2="562.05" y2="1132.15" stroke="#000" stroke-width="2.1" stroke-linecap="butt"/>
<rect x="513.15" y="1081.50" width="54.70" height="5.80" fill="#000"/>
<rect x="513.15" y="1081.50" width="5.80" height="59.50" fill="#000"/>
<rect x="562.05" y="1081.50" width="5.80" height="59.50" fill="#000"/>
<line x1="540.50" y1="1083.50" x2="540.50" y2="1077.80" stroke="#000" stroke-width="3.95" stroke-linecap="butt"/>
<line x1="526.95" y1="1077.80" x2="554.05" y2="1077.80" stroke="#000" stroke-width="3.95" stroke-linecap="butt"/>
<line x1="601.55" y1="1112.60" x2="644.65" y2="1112.60" stroke="#000" stroke-width="2.1" stroke-linecap="butt"/>
<line x1="601.55" y1="1124.75" x2="644.65" y2="1124.75" stroke="#000" stroke-width="2.1" stroke-linecap="butt"/>
<line x1="601.55" y1="1136.90" x2="644.65" y2="1136.90" stroke="#000" stroke-width="2.1" stroke-linecap="butt"/>
<rect x="595.75" y="1099.00" width="54.70" height="5.80" fill="#000"/>
<rect x="595.75" y="1099.00" width="5.80" height="42.00" fill="#000"/>
<rect x="644.65" y="1099.00" width="5.80" height="42.00" fill="#000"/>
<line x1="623.10" y1="1101.00" x2="623.10" y2="1082.90" stroke="#000" stroke-width="3.95" stroke-linecap="butt"/>
<line x1="609.55" y1="1082.90" x2="636.65" y2="1082.90" stroke="#000" stroke-width="3.95" stroke-linecap="butt"/>
<line x1="684.15" y1="1119.80" x2="727.25" y2="1119.80" stroke="#000" stroke-width="2.1" stroke-linecap="butt"/>
<line x1="684.15" y1="1131.95" x2="727.25" y2="1131.95" stroke="#000" stroke-width="2.1" stroke-linecap="butt"/>
<rect x="678.35" y="1107.00" width="54.70" height="5.80" fill="#000"/>
<rect x="678.35" y="1107.00" width="5.80" height="34.00" fill="#000"/>
<rect x="727.25" y="1107.00" width="5.80" height="34.00" fill="#000"/>
<line x1="705.70" y1="1109.00" x2="705.70" y2="1100.00" stroke="#000" stroke-width="3.95" stroke-linecap="butt"/>
<line x1="692.15" y1="1100.00" x2="719.25" y2="1100.00" stroke="#000" stroke-width="3.95" stroke-linecap="butt"/>
<rect x="261.70" y="1207.70" width="200" height="5.4" fill="#000"/>
<rect x="515.50" y="1208.20" width="220.20" height="5.6" fill="#000"/>
<text x="306.30" y="1259.80" font-size="33" font-weight="bold" text-anchor="start">Cur</text>
<text x="558.50" y="1260.00" font-size="33" font-weight="bold" text-anchor="start">DPP4i</text>
<text transform="translate(221.10,1179.00) rotate(-45)" font-size="31" font-weight="bold" text-anchor="end">Con</text>
<text transform="translate(303.70,1179.00) rotate(-45)" font-size="31" font-weight="bold" text-anchor="end">10</text>
<text transform="translate(386.30,1179.00) rotate(-45)" font-size="31" font-weight="bold" text-anchor="end">20</text>
<text transform="translate(468.90,1179.00) rotate(-45)" font-size="31" font-weight="bold" text-anchor="end">30</text>
<text transform="translate(551.50,1179.00) rotate(-45)" font-size="31" font-weight="bold" text-anchor="end">10</text>
<text transform="translate(634.10,1179.00) rotate(-45)" font-size="31" font-weight="bold" text-anchor="end">50</text>
<text transform="translate(716.70,1179.00) rotate(-45)" font-size="31" font-weight="bold" text-anchor="end">100</text>
<text y="1199.20"><tspan x="95.50" font-size="34" font-family="'Liberation Serif', serif" font-weight="normal" stroke="#000" stroke-width="0.9">µ</tspan><tspan x="114.10" font-size="35" font-weight="bold">M</tspan></text>
<text transform="translate(28.90,938.00) rotate(-90)" font-size="39.1" font-weight="bold" text-anchor="middle">DPP4 activity ratio of control</text>
<text x="42.20" y="687.10" font-size="52" font-weight="bold" text-anchor="start">(C)</text>
<line x1="1039.60" y1="1197.10" x2="1039.60" y2="789.00" stroke="#000" stroke-width="4.0" stroke-linecap="butt"/>
<line x1="1028.30" y1="1195.10" x2="1039.60" y2="1195.10" stroke="#000" stroke-width="3.8" stroke-linecap="butt"/>
<text x="1024.40" y="1205.80" font-size="31" font-weight="bold" text-anchor="end">0.0</text>
<line x1="1028.30" y1="1137.36" x2="1039.60" y2="1137.36" stroke="#000" stroke-width="3.8" stroke-linecap="butt"/>
<text x="1024.40" y="1148.06" font-size="31" font-weight="bold" text-anchor="end">0.2</text>
<line x1="1028.30" y1="1079.61" x2="1039.60" y2="1079.61" stroke="#000" stroke-width="3.8" stroke-linecap="butt"/>
<text x="1024.40" y="1090.31" font-size="31" font-weight="bold" text-anchor="end">0.4</text>
<line x1="1028.30" y1="1021.87" x2="1039.60" y2="1021.87" stroke="#000" stroke-width="3.8" stroke-linecap="butt"/>
<text x="1024.40" y="1032.57" font-size="31" font-weight="bold" text-anchor="end">0.6</text>
<line x1="1028.30" y1="964.13" x2="1039.60" y2="964.13" stroke="#000" stroke-width="3.8" stroke-linecap="butt"/>
<text x="1024.40" y="974.83" font-size="31" font-weight="bold" text-anchor="end">0.8</text>
<line x1="1028.30" y1="906.39" x2="1039.60" y2="906.39" stroke="#000" stroke-width="3.8" stroke-linecap="butt"/>
<text x="1024.40" y="917.09" font-size="31" font-weight="bold" text-anchor="end">1.0</text>
<line x1="1028.30" y1="848.64" x2="1039.60" y2="848.64" stroke="#000" stroke-width="3.8" stroke-linecap="butt"/>
<text x="1024.40" y="859.34" font-size="31" font-weight="bold" text-anchor="end">1.2</text>
<line x1="1028.30" y1="790.90" x2="1039.60" y2="790.90" stroke="#000" stroke-width="3.8" stroke-linecap="butt"/>
<text x="1024.40" y="801.60" font-size="31" font-weight="bold" text-anchor="end">1.4</text>
<line x1="1028.30" y1="1195.10" x2="1648.00" y2="1195.10" stroke="#000" stroke-width="4.0" stroke-linecap="butt"/>
<line x1="1094.40" y1="1195.10" x2="1094.40" y2="1206.30" stroke="#000" stroke-width="3.8" stroke-linecap="butt"/>
<line x1="1177.00" y1="1195.10" x2="1177.00" y2="1206.30" stroke="#000" stroke-width="3.8" stroke-linecap="butt"/>
<line x1="1259.60" y1="1195.10" x2="1259.60" y2="1206.30" stroke="#000" stroke-width="3.8" stroke-linecap="butt"/>
<line x1="1342.20" y1="1195.10" x2="1342.20" y2="1206.30" stroke="#000" stroke-width="3.8" stroke-linecap="butt"/>
<line x1="1424.80" y1="1195.10" x2="1424.80" y2="1206.30" stroke="#000" stroke-width="3.8" stroke-linecap="butt"/>
<line x1="1507.40" y1="1195.10" x2="1507.40" y2="1206.30" stroke="#000" stroke-width="3.8" stroke-linecap="butt"/>
<line x1="1590.00" y1="1195.10" x2="1590.00" y2="1206.30" stroke="#000" stroke-width="3.8" stroke-linecap="butt"/>
<rect x="1067.05" y="906.70" width="54.70" height="288.40" fill="#000"/>
<line x1="1094.40" y1="908.70" x2="1094.40" y2="833.90" stroke="#000" stroke-width="3.95" stroke-linecap="butt"/>
<line x1="1080.85" y1="833.90" x2="1107.95" y2="833.90" stroke="#000" stroke-width="3.95" stroke-linecap="butt"/>
<rect x="1149.65" y="1082.20" width="54.70" height="5.80" fill="#000"/>
<rect x="1149.65" y="1082.20" width="5.80" height="112.90" fill="#000"/>
<rect x="1198.55" y="1082.20" width="5.80" height="112.90" fill="#000"/>
<line x1="1177.00" y1="1084.20" x2="1177.00" y2="1080.60" stroke="#000" stroke-width="3.95" stroke-linecap="butt"/>
<line x1="1163.45" y1="1080.60" x2="1190.55" y2="1080.60" stroke="#000" stroke-width="3.95" stroke-linecap="butt"/>
<rect x="1232.25" y="1094.00" width="54.70" height="5.80" fill="#000"/>
<rect x="1232.25" y="1094.00" width="5.80" height="101.10" fill="#000"/>
<rect x="1281.15" y="1094.00" width="5.80" height="101.10" fill="#000"/>
<line x1="1259.60" y1="1096.00" x2="1259.60" y2="1075.40" stroke="#000" stroke-width="3.95" stroke-linecap="butt"/>
<line x1="1246.05" y1="1075.40" x2="1273.15" y2="1075.40" stroke="#000" stroke-width="3.95" stroke-linecap="butt"/>
<rect x="1314.85" y="1101.50" width="54.70" height="5.80" fill="#000"/>
<rect x="1314.85" y="1101.50" width="5.80" height="93.60" fill="#000"/>
<rect x="1363.75" y="1101.50" width="5.80" height="93.60" fill="#000"/>
<line x1="1342.20" y1="1103.50" x2="1342.20" y2="1093.00" stroke="#000" stroke-width="3.95" stroke-linecap="butt"/>
<line x1="1328.65" y1="1093.00" x2="1355.75" y2="1093.00" stroke="#000" stroke-width="3.95" stroke-linecap="butt"/>
<line x1="1403.25" y1="1175.60" x2="1446.35" y2="1175.60" stroke="#000" stroke-width="2.1" stroke-linecap="butt"/>
<line x1="1403.25" y1="1187.75" x2="1446.35" y2="1187.75" stroke="#000" stroke-width="2.1" stroke-linecap="butt"/>
<rect x="1397.45" y="1162.20" width="54.70" height="5.80" fill="#000"/>
<rect x="1397.45" y="1162.20" width="5.80" height="32.90" fill="#000"/>
<rect x="1446.35" y="1162.20" width="5.80" height="32.90" fill="#000"/>
<line x1="1424.80" y1="1164.20" x2="1424.80" y2="1157.60" stroke="#000" stroke-width="3.95" stroke-linecap="butt"/>
<line x1="1411.25" y1="1157.60" x2="1438.35" y2="1157.60" stroke="#000" stroke-width="3.95" stroke-linecap="butt"/>
<line x1="1485.85" y1="1182.50" x2="1528.95" y2="1182.50" stroke="#000" stroke-width="2.1" stroke-linecap="butt"/>
<rect x="1480.05" y="1169.20" width="54.70" height="5.80" fill="#000"/>
<rect x="1480.05" y="1169.20" width="5.80" height="25.90" fill="#000"/>
<rect x="1528.95" y="1169.20" width="5.80" height="25.90" fill="#000"/>
<line x1="1507.40" y1="1171.20" x2="1507.40" y2="1157.00" stroke="#000" stroke-width="3.95" stroke-linecap="butt"/>
<line x1="1493.85" y1="1157.00" x2="1520.95" y2="1157.00" stroke="#000" stroke-width="3.95" stroke-linecap="butt"/>
<line x1="1568.45" y1="1194.00" x2="1611.55" y2="1194.00" stroke="#000" stroke-width="2.1" stroke-linecap="butt"/>
<rect x="1562.65" y="1180.80" width="54.70" height="5.80" fill="#000"/>
<rect x="1562.65" y="1180.80" width="5.80" height="14.30" fill="#000"/>
<rect x="1611.55" y="1180.80" width="5.80" height="14.30" fill="#000"/>
<line x1="1590.00" y1="1182.80" x2="1590.00" y2="1172.80" stroke="#000" stroke-width="3.95" stroke-linecap="butt"/>
<line x1="1576.45" y1="1172.80" x2="1603.55" y2="1172.80" stroke="#000" stroke-width="3.95" stroke-linecap="butt"/>
<rect x="1146.00" y="1261.80" width="200" height="5.4" fill="#000"/>
<rect x="1399.80" y="1262.30" width="220.20" height="5.6" fill="#000"/>
<text x="1190.60" y="1313.90" font-size="33" font-weight="bold" text-anchor="start">Cur</text>
<text x="1442.80" y="1314.10" font-size="33" font-weight="bold" text-anchor="start">DPP4i</text>
<text transform="translate(1105.40,1233.10) rotate(-45)" font-size="31" font-weight="bold" text-anchor="end">Con</text>
<text transform="translate(1188.00,1233.10) rotate(-45)" font-size="31" font-weight="bold" text-anchor="end">10</text>
<text transform="translate(1270.60,1233.10) rotate(-45)" font-size="31" font-weight="bold" text-anchor="end">20</text>
<text transform="translate(1353.20,1233.10) rotate(-45)" font-size="31" font-weight="bold" text-anchor="end">30</text>
<text transform="translate(1435.80,1233.10) rotate(-45)" font-size="31" font-weight="bold" text-anchor="end">10</text>
<text transform="translate(1518.40,1233.10) rotate(-45)" font-size="31" font-weight="bold" text-anchor="end">50</text>
<text transform="translate(1601.00,1233.10) rotate(-45)" font-size="31" font-weight="bold" text-anchor="end">100</text>
<text y="1253.40"><tspan x="980.10" font-size="34" font-family="'Liberation Serif', serif" font-weight="normal" stroke="#000" stroke-width="0.9">µ</tspan><tspan x="998.70" font-size="35" font-weight="bold">M</tspan></text>
<text transform="translate(913.20,992.00) rotate(-90)" font-size="39.1" font-weight="bold" text-anchor="middle">DPP4 activity ratio of control</text>
<text x="859.90" y="677.50" font-size="52" font-weight="bold" text-anchor="start">(D)</text>
<text x="325.40" y="430.50" font-size="31.5" letter-spacing="1.45" font-weight="normal">***</text>
<text x="405.50" y="198.90" font-size="31.5" letter-spacing="1.45" font-weight="normal">**</text>
<text x="478.50" y="196.90" font-size="31.5" letter-spacing="1.45" font-weight="normal">**</text>
<text x="551.30" y="204.70" font-size="31.5" letter-spacing="1.45" font-weight="normal">**</text>
<text x="617.00" y="316.90" font-size="31.5" letter-spacing="1.45" font-weight="normal">***</text>
<text x="689.80" y="445.00" font-size="31.5" letter-spacing="1.45" font-weight="normal">***</text>
<text x="1241.70" y="345.50" font-size="31.5" letter-spacing="1.45" font-weight="normal">**</text>
<text x="1405.00" y="449.40" font-size="31.5" letter-spacing="1.45" font-weight="normal">***</text>
<text x="1485.70" y="449.40" font-size="31.5" letter-spacing="1.45" font-weight="normal">***</text>
<text x="1568.90" y="468.90" font-size="31.5" letter-spacing="1.45" font-weight="normal">***</text>
<text x="360.90" y="968.10" font-size="31.5" letter-spacing="1.45" font-weight="normal">**</text>
<text x="437.70" y="998.40" font-size="31.5" letter-spacing="1.45" font-weight="normal">***</text>
<text x="518.10" y="1076.20" font-size="31.5" letter-spacing="1.45" font-weight="normal">***</text>
<text x="601.70" y="1089.30" font-size="31.5" letter-spacing="1.45" font-weight="normal">***</text>
<text x="684.50" y="1102.70" font-size="31.5" letter-spacing="1.45" font-weight="normal">***</text>
<text x="1154.70" y="1075.10" font-size="31.5" letter-spacing="1.45" font-weight="normal">***</text>
<text x="1235.30" y="1070.70" font-size="31.5" letter-spacing="1.45" font-weight="normal">***</text>
<text x="1322.10" y="1086.70" font-size="31.5" letter-spacing="1.45" font-weight="normal">***</text>
<text x="1406.40" y="1157.20" font-size="31.5" letter-spacing="1.45" font-weight="normal">***</text>
<text x="1485.90" y="1157.20" font-size="31.5" letter-spacing="1.45" font-weight="normal">***</text>
<text x="1568.90" y="1171.80" font-size="31.5" letter-spacing="1.45" font-weight="normal">***</text></svg></body></html>
